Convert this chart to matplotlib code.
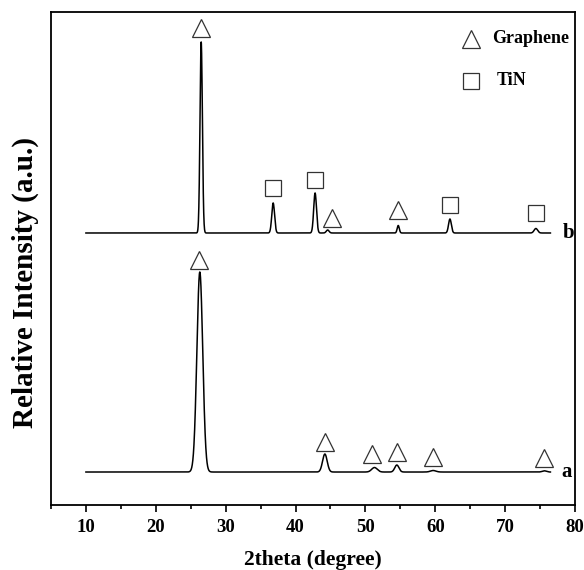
import numpy as np
import matplotlib.pyplot as plt

plt.rcParams['font.family'] = ['Liberation Serif', 'DejaVu Serif']
plt.rcParams['font.weight'] = 'bold'

# peak list: position (2theta), height, sigma
a_pos = [26.3, 44.2, 51.3, 54.5, 59.7, 75.6]
a_hgt = [200, 18, 4.5, 7, 1.5, 1.2]
a_sig = [0.42, 0.33, 0.4, 0.3, 0.4, 0.3]
a_base = 33

b_pos = [26.5, 36.8, 42.8, 44.6, 54.7, 62.1, 74.4]
b_hgt = [191, 30, 40, 3, 7.5, 14, 4.5]
b_sig = [0.17, 0.2, 0.2, 0.2, 0.15, 0.2, 0.25]
b_base = 272

# phase markers (2theta, height)
a_tri_x = [26.2, 44.2, 51.0, 54.5, 59.7, 75.6]
a_tri_y = [245, 63, 51, 53, 48, 47]
b_tri_x = [26.5, 45.2, 54.7]
b_tri_y = [477, 287, 295]
b_sq_x = [36.8, 42.8, 62.1, 74.4]
b_sq_y = [317, 325, 300, 292]

x = np.arange(10, 76.5, 0.02)

def pattern(pos, hgt, sig, base):
    y = np.full_like(x, base, dtype=float)
    for p, h, s in zip(pos, hgt, sig):
        y += h * np.exp(-0.5 * ((x - p) / s) ** 2)
    return y

ya = pattern(a_pos, a_hgt, a_sig, a_base)
yb = pattern(b_pos, b_hgt, b_sig, b_base)

fig = plt.figure(figsize=(5.84, 5.70), dpi=100)
ax = fig.add_axes([0.0873, 0.114, 0.8973, 0.865])

ax.plot(x, ya, color='black', lw=1.1)
ax.plot(x, yb, color='black', lw=1.1)

mk = dict(ls='none', mfc='white', mec='#333333', mew=0.9, ms=13)
ax.plot(a_tri_x, a_tri_y, marker='^', **mk)
ax.plot(b_tri_x, b_tri_y, marker='^', **mk)
ax.plot(b_sq_x, b_sq_y, marker='s', **dict(mk, ms=12))

ax.text(78.1, a_base, 'a', fontsize=15, fontweight='bold', va='center', ha='left')
ax.text(78.2, b_base, 'b', fontsize=15, fontweight='bold', va='center', ha='left')

# legend
ax.plot([65.1], [466], marker='^', **mk)
ax.plot([65.1], [424], marker='s', **dict(mk, ms=12))
ax.text(68.1, 466, 'Graphene', fontsize=13, fontweight='bold', va='center')
ax.text(68.8, 424, 'TiN', fontsize=13, fontweight='bold', va='center')

ax.set_xlim(5, 80)
ax.set_ylim(0, 493)
ax.set_xticks(np.arange(10, 81, 10))
ax.set_xticks(np.arange(5, 81, 5), minor=True)
ax.set_yticks([])
ax.tick_params(axis='x', which='major', direction='out', length=5, width=1.2, labelsize=13.5, pad=5)
ax.tick_params(axis='x', which='minor', direction='out', length=3, width=1.2)
for lbl in ax.get_xticklabels():
    lbl.set_fontweight('bold')
for s in ax.spines.values():
    s.set_linewidth(1.3)

ax.set_xlabel('2theta (degree)', fontsize=15.5, fontweight='bold', labelpad=10)
ax.set_ylabel('Relative Intensity (a.u.)', fontsize=21, fontweight='bold')
ax.yaxis.set_label_coords(-0.022, 0.452)

fig.savefig('out.png', dpi=100)
